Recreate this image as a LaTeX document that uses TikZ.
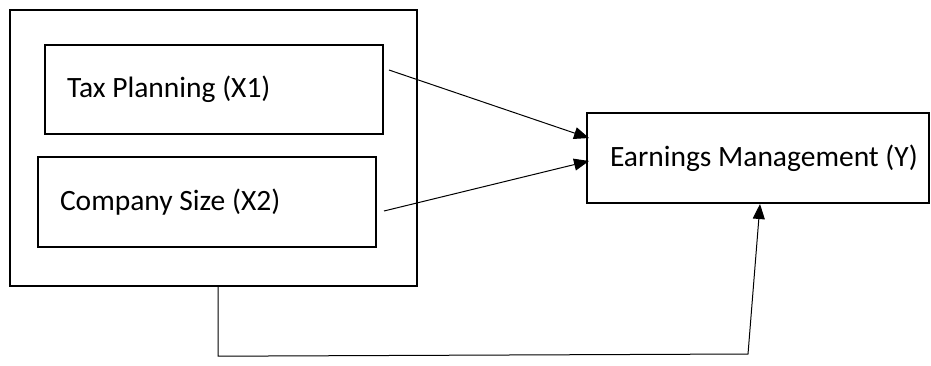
\documentclass[tikz,border=0pt]{standalone}
\usepackage{fontspec}
\setmainfont{Carlito}
\usetikzlibrary{arrows.meta,calc}

\tikzset{
  box/.style={draw=black, line width=2pt, rectangle, inner ysep=0pt,
              font=\fontsize{29.5}{35}\selectfont},
  link/.style={draw=black, line width=1pt},
  tip/.style={-{Triangle[length=15pt,width=12pt]}}
}
% left-aligned label set in a box of fixed width
\newcommand{\boxlabel}[2]{\makebox[#1][l]{#2}}

\begin{document}
\begin{tikzpicture}[x=1pt,y=-1pt]
  \useasboundingbox (0,0) rectangle (931,365);

  % group frame around the two independent variables
  \node[box, line width=2.4pt, minimum width=407pt, minimum height=276pt]
       (outer) at (213.5,148) {};

  % independent variables
  \node[box, inner xsep=22pt, minimum height=89pt]
       (tax) at (214,89.5) {\boxlabel{294pt}{Tax Planning (X1)}};
  \node[box, inner xsep=22pt, minimum height=90pt]
       (size) at (207,202) {\boxlabel{294pt}{Company Size (X2)}};

  % dependent variable
  \node[box, inner xsep=23pt, minimum height=90pt]
       (em) at (758,158) {\boxlabel{296pt}{\raisebox{-3pt}{Earnings Management (Y)}}};

  % partial effects
  \draw[link, tip] ($(tax.east)+(5,-19.5)$) -- ($(em.west)+(3,-20)$);
  \draw[link, tip] ($(size.east)+(7,9)$) -- ($(em.west)+(3,3)$);

  % simultaneous effect
  \coordinate (c1) at ($(outer.south)+(4.5,0)$);
  \coordinate (c2) at ($(c1)+(0,69)$);
  \coordinate (c3) at ($(em.south)+(-10,150)$);
  \draw[link, tip] (c1) -- (c2) -- (c3) -- ($(em.south)+(2,0)$);
\end{tikzpicture}
\end{document}
